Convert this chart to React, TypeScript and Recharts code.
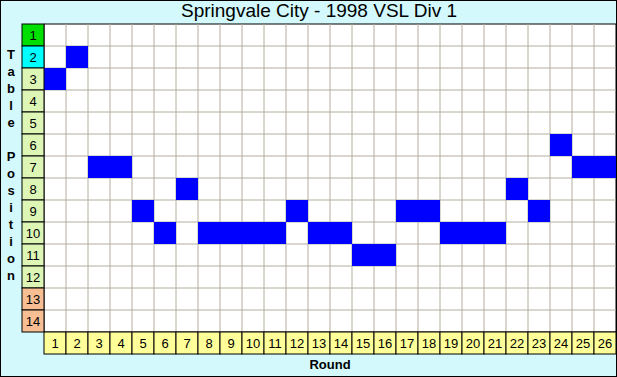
import { ComposedChart, XAxis, YAxis, Scatter, ReferenceArea, ReferenceLine } from "recharts"

const rounds = [1, 2, 3, 4, 5, 6, 7, 8, 9, 10, 11, 12, 13, 14, 15, 16, 17, 18, 19, 20, 21, 22, 23, 24, 25, 26]
const positions = [3, 2, 7, 7, 9, 10, 8, 10, 10, 10, 10, 9, 10, 10, 11, 11, 9, 9, 10, 10, 10, 8, 9, 6, 7, 7]
const tablePositions = [1, 2, 3, 4, 5, 6, 7, 8, 9, 10, 11, 12, 13, 14]
const axisTitle = "Table Position"

const W = 617
const H = 377
const margin = { top: 24, right: 1, bottom: 23, left: 22 }
const LABEL = 22
const cellW = (W - margin.left - LABEL - margin.right) / rounds.length
const cellH = (H - margin.top - margin.bottom - LABEL) / tablePositions.length

const data = rounds.map((r, i) => ({ round: r, position: positions[i] }))

const positionColor = (p: number) => {
  if (p === 1) return "#00E000"
  if (p === 2) return "#00FFFF"
  if (p >= 13) return "#F6BE92"
  return "#DDF6B6"
}

const RoundTick = (props: any) => {
  const { x, y, payload } = props
  return (
    <g>
      <rect x={x - cellW / 2} y={y} width={cellW} height={LABEL} fill="#FFFF99" stroke="#000" />
      <text x={x} y={y + 16} textAnchor="middle" fontSize={13} fill="#000">
        {payload.value}
      </text>
    </g>
  )
}

const PositionTick = (props: any) => {
  const { x, y, payload } = props
  return (
    <g>
      <rect x={x - LABEL} y={y - cellH / 2} width={LABEL} height={cellH} fill={positionColor(payload.value)} stroke="#000" />
      <text x={x - LABEL / 2} y={y + 5} textAnchor="middle" fontSize={13} fill="#000">
        {payload.value}
      </text>
    </g>
  )
}

const Cell = (props: any) => {
  const { cx, cy } = props
  return <rect x={cx - cellW / 2} y={cy - cellH / 2} width={cellW} height={cellH} fill="#0000FF" />
}

export default function App() {
  return (
    <div
      style={{
        position: "absolute",
        left: 0,
        top: 0,
        width: W,
        height: H,
        background: "#D3F9FC",
        fontFamily: "'Liberation Sans', Arial, sans-serif",
      }}
    >
      <ComposedChart width={W} height={H} data={data} margin={margin}>
        <XAxis
          dataKey="round"
          type="number"
          domain={[0.5, 26.5]}
          ticks={rounds}
          interval={0}
          axisLine={false}
          tickLine={false}
          tickSize={0}
          tickMargin={0}
          height={LABEL}
          tick={<RoundTick />}
        />
        <YAxis
          dataKey="position"
          type="number"
          domain={[0.5, 14.5]}
          reversed
          ticks={tablePositions}
          interval={0}
          axisLine={false}
          tickLine={false}
          tickSize={0}
          tickMargin={0}
          width={LABEL}
          tick={<PositionTick />}
        />
        <ReferenceArea x1={0.5} x2={26.5} y1={0.5} y2={14.5} fill="#FFFFFF" fillOpacity={1} stroke="none" />
        {rounds.slice(0, -1).map((r) => (
          <ReferenceLine key={"v" + r} x={r + 0.5} stroke="#B4ACA0" />
        ))}
        {tablePositions.slice(0, -1).map((p) => (
          <ReferenceLine key={"h" + p} y={p + 0.5} stroke="#B4ACA0" />
        ))}
        <Scatter dataKey="position" shape={<Cell />} isAnimationActive={false} />
        <ReferenceArea x1={0.5} x2={26.5} y1={0.5} y2={14.5} fill="none" stroke="#000" />
      </ComposedChart>
      <div
        style={{
          position: "absolute",
          left: 319,
          top: 0,
          transform: "translateX(-50%)",
          fontSize: 19,
          whiteSpace: "nowrap",
          color: "#000",
        }}
      >
        Springvale City - 1998 VSL Div 1
      </div>
      <div style={{ position: "absolute", left: 2, top: 46, width: 18, textAlign: "center" }}>
        {axisTitle.split("").map((c, i) => (
          <div key={i} style={{ height: 17, lineHeight: "17px", fontSize: 13, fontWeight: "bold" }}>
            {c === " " ? "\u00a0" : c}
          </div>
        ))}
      </div>
      <div
        style={{
          position: "absolute",
          left: 330,
          top: 357,
          transform: "translateX(-50%)",
          fontSize: 13,
          fontWeight: "bold",
        }}
      >
        Round
      </div>
      <div
        style={{
          position: "absolute",
          inset: 0,
          border: "1px solid #000",
          pointerEvents: "none",
        }}
      />
    </div>
  )
}
